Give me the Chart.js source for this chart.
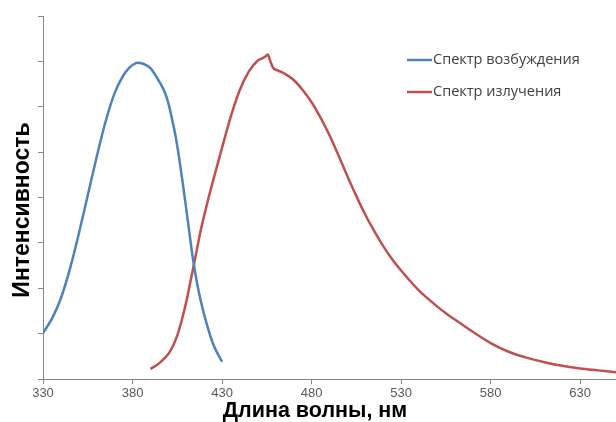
<!DOCTYPE html>
<html>
<head>
<meta charset="utf-8">
<script src="https://cdn.jsdelivr.net/npm/chart.js@4/dist/chart.umd.min.js"></script>
<style>
  html, body { margin: 0; padding: 0; background: #fff; }
  #spectra { display: block; }
</style>
</head>
<body>
<canvas id="spectra" width="616" height="422"></canvas>
<script>
// Excitation spectrum: wavelength (nm) and intensity (arb. units)
var excWave = [330, 335, 340, 345, 350, 355, 360, 365, 370, 375, 378, 380, 383, 385, 388, 390, 395, 398, 400, 402, 404, 406, 408, 410, 412, 414, 416, 418, 420, 425, 430];
var excInt  = [1.01, 1.33, 1.78, 2.42, 3.20, 4.05, 4.90, 5.68, 6.30, 6.70, 6.85, 6.92, 6.97, 6.96, 6.91, 6.85, 6.55, 6.32, 6.08, 5.74, 5.36, 4.88, 4.33, 3.75, 3.15, 2.58, 2.12, 1.74, 1.42, 0.77, 0.38];

// Emission spectrum
var emWave = [390, 395, 400, 402.5, 405, 407.5, 410, 412.5, 415, 417.5, 420, 422.5, 425, 430, 435, 440, 445, 450, 452, 454, 455.5, 457, 458.5, 461, 463, 465, 470, 475, 480, 485, 490, 495, 500, 505, 510, 515, 520, 525, 530, 535, 540, 545, 550, 555, 560, 570, 580, 590, 600, 610, 620, 630, 640, 650];
var emInt  = [0.22, 0.35, 0.55, 0.72, 0.96, 1.30, 1.70, 2.18, 2.66, 3.17, 3.60, 4.00, 4.37, 5.10, 5.80, 6.38, 6.78, 7.02, 7.06, 7.10, 7.15, 7.00, 6.86, 6.80, 6.77, 6.73, 6.59, 6.37, 6.10, 5.76, 5.37, 4.93, 4.47, 4.03, 3.62, 3.26, 2.93, 2.64, 2.39, 2.16, 1.95, 1.77, 1.60, 1.45, 1.31, 1.04, 0.79, 0.60, 0.47, 0.37, 0.29, 0.23, 0.19, 0.15];

var seriesNames = ['Спектр возбуждения', 'Спектр излучения'];
var xTicks = [330, 380, 430, 480, 530, 580, 630];
var xTitle = 'Длина волны, нм';
var yTitle = 'Интенсивность';

var BLUE = '#4f81bd';
var RED = '#c0504d';
var AXIS = '#868686';

function toPoints(xs, ys) {
  return xs.map(function(x, i) { return {x: x, y: ys[i]}; });
}

// axis titles and the legend are placed by hand
var decorations = {
  id: 'decorations',
  afterDraw: function(chart) {
    var ctx = chart.ctx;
    ctx.save();
    ctx.fillStyle = '#000';
    ctx.textAlign = 'center';
    ctx.textBaseline = 'middle';
    ctx.font = 'bold 21.5px "Liberation Sans", Arial, sans-serif';
    ctx.fillText(xTitle, 315, 411);

    ctx.translate(23, 210);
    ctx.rotate(-Math.PI / 2);
    ctx.font = 'bold 23px "Liberation Sans", Arial, sans-serif';
    ctx.fillText(yTitle, 0, 0);
    ctx.restore();

    ctx.save();
    ctx.font = '14.5px "Open Sans", sans-serif';
    ctx.textAlign = 'left';
    ctx.textBaseline = 'middle';
    chart.data.datasets.forEach(function(ds, i) {
      var y = 60 + i * 32;
      ctx.strokeStyle = ds.borderColor;
      ctx.lineWidth = 2.5;
      ctx.beginPath();
      ctx.moveTo(407, y);
      ctx.lineTo(432, y);
      ctx.stroke();
      ctx.fillStyle = '#404040';
      ctx.fillText(ds.label, 433, y);
    });
    ctx.restore();
  }
};

new Chart(document.getElementById('spectra'), {
  type: 'line',
  data: {
    datasets: [{
      label: seriesNames[0],
      data: toPoints(excWave, excInt),
      borderColor: BLUE,
      borderWidth: 2.5,
      pointRadius: 0,
      cubicInterpolationMode: 'monotone',
      fill: false
    }, {
      label: seriesNames[1],
      data: toPoints(emWave, emInt),
      borderColor: RED,
      borderWidth: 2.5,
      pointRadius: 0,
      cubicInterpolationMode: 'monotone',
      fill: false
    }]
  },
  options: {
    responsive: false,
    animation: false,
    layout: { padding: { top: 16, right: 0, left: 0, bottom: 0 } },
    plugins: {
      legend: { display: false },
      tooltip: { enabled: false }
    },
    scales: {
      x: {
        type: 'linear',
        min: 330,
        max: 650,
        afterBuildTicks: function(scale) {
          scale.ticks = xTicks.map(function(v) { return {value: v}; });
        },
        afterFit: function(scale) { scale.height = 43; },
        ticks: {
          autoSkip: false,
          maxRotation: 0,
          padding: 2,
          color: '#595959',
          font: { family: '"Liberation Sans", Arial, sans-serif', size: 13 }
        },
        grid: { drawOnChartArea: false, tickLength: 5, color: AXIS },
        border: { color: AXIS, width: 1 }
      },
      y: {
        min: 0,
        max: 8,
        afterFit: function(scale) { scale.width = 43; },
        ticks: { stepSize: 1, display: false },
        grid: { drawOnChartArea: false, tickLength: 5, color: AXIS },
        border: { color: AXIS, width: 1 }
      }
    }
  },
  plugins: [decorations]
});
</script>
</body>
</html>
